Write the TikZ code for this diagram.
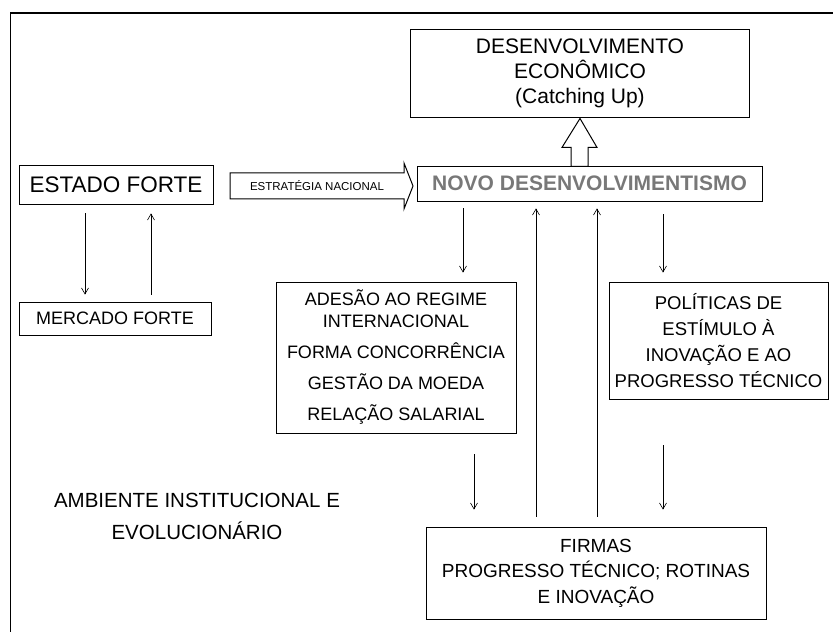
\documentclass[tikz,border=0pt]{standalone}
\usepackage{fontspec}
\setmainfont{Liberation Sans}
\usetikzlibrary{arrows.meta}

\tikzset{
  caixa/.style={draw=black, line width=0.9pt, inner sep=0pt, align=center},
  seta/.style={draw=black, line width=0.6pt, -{Straight Barb[length=6pt,width=7pt]}},
  setaoca/.style={draw=black, line width=1pt, line join=miter},
}

\begin{document}
\begin{tikzpicture}[x=1pt,y=1pt]
\definecolor{novoColor}{RGB}{120,120,120}
\path[use as bounding box] (0,0) rectangle (833,632);

\draw[line width=1.5pt] (10.5,0) -- (10.5,619) -- (833,619);

\node[caixa, minimum width=339pt, minimum height=88pt, font=\fontsize{21}{25}\selectfont] (desenv) at (580,559) {DESENVOLVIMENTO\\ECON\^OMICO\\(Catching Up)};

\node[caixa, minimum width=194pt, minimum height=39pt, font=\fontsize{22.5}{26}\selectfont] (estado) at (116,447.5) {ESTADO FORTE};

\node[caixa, minimum width=345pt, minimum height=35pt, text=novoColor, font=\fontsize{21}{24}\selectfont\bfseries] (novo) at (589.5,448.5) {NOVO DESENVOLVIMENTISMO};

\node[caixa, minimum width=192pt, minimum height=33pt, font=\fontsize{18}{22}\selectfont] (mercado) at (115,313.5) {MERCADO FORTE};

\node[caixa, minimum width=240pt, minimum height=151pt, font=\fontsize{18}{22}\selectfont] (adesao) at (396,274.5) {ADESÃO AO REGIME\\INTERNACIONAL\\[9pt]FORMA CONCORRÊNCIA\\[9pt]GESTÃO DA MOEDA\\[9pt]RELAÇÃO SALARIAL};

\node[caixa, minimum width=219pt, minimum height=117pt, font=\fontsize{18.5}{26}\selectfont] (politicas) at (718.5,291.5) {POLÍTICAS DE\\ESTÍMULO À\\INOVAÇÃO E AO\\PROGRESSO TÉCNICO};

\node[caixa, minimum width=340pt, minimum height=92pt, font=\fontsize{19}{25.5}\selectfont] (firmas) at (596,59) {FIRMAS\\PROGRESSO TÉCNICO; ROTINAS\\E INOVAÇÃO};

\node[align=center, inner sep=0pt, font=\fontsize{20.5}{32}\selectfont] (ambiente) at (197,115.5) {AMBIENTE INSTITUCIONAL E\\EVOLUCIONÁRIO};

% estrategia nacional
\node[inner sep=0pt, font=\fontsize{11.5}{14}\selectfont] (strat) at (317,446) {ESTRATÉGIA NACIONAL};
\draw[setaoca] (strat.center) ++(-87,13) -- ++(174,0) -- ++(0,10) -- ++(9,-23) -- ++(-9,-23) -- ++(0,10) -- ++(-174,0) -- cycle;

% seta larga para cima
\draw[setaoca] (desenv.south) ++(0,-1) -- ++(17,-29) -- ++(-9,0) -- ++(0,-19) -- ++(-17,0) -- ++(0,19) -- ++(-9,0) -- cycle;

\coordinate (c0) at (85,0);
\coordinate (c0b) at (151,0);
\coordinate (c1) at (463,0);
\coordinate (c2) at (536,0);
\coordinate (c3) at (597,0);
\coordinate (c4) at (663,0);
\coordinate (c5) at (474,0);

\draw[seta, shorten <=9pt, shorten >=7pt] (estado.south -| c0) -- (mercado.north -| c0);
\draw[seta, shorten <=7pt, shorten >=9pt] (mercado.north -| c0b) -- (estado.south -| c0b);

\draw[seta, shorten <=7pt, shorten >=9pt] (novo.south -| c1) -- (adesao.north -| c1);
\draw[seta, shorten <=10pt, shorten >=7pt] (firmas.north -| c2) -- (novo.south -| c2);
\draw[seta, shorten <=10pt, shorten >=7pt] (firmas.north -| c3) -- (novo.south -| c3);
\draw[seta, shorten <=13pt, shorten >=9pt] (novo.south -| c4) -- (politicas.north -| c4);

\draw[seta, shorten <=21pt, shorten >=17pt] (adesao.south -| c5) -- (firmas.north -| c5);
\draw[seta, shorten <=46pt, shorten >=17pt] (politicas.south -| c4) -- (firmas.north -| c4);
\end{tikzpicture}
\end{document}
